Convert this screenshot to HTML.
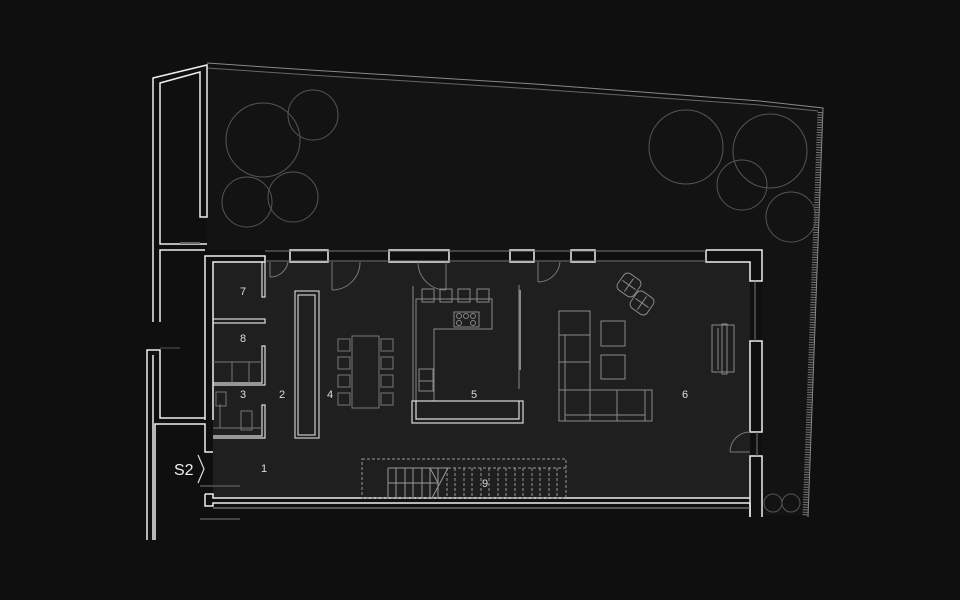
<!DOCTYPE html>
<html><head><meta charset="utf-8"><style>
html,body{margin:0;padding:0;background:#0f0f0f;}
svg{display:block;}
text{font-family:"Liberation Sans",sans-serif;fill:#ddd;}
</style></head><body>
<svg width="960" height="600" viewBox="0 0 960 600" xmlns="http://www.w3.org/2000/svg">
<rect width="960" height="600" fill="#0f0f0f"/>
<!-- garden -->
<polygon points="207,67 310,74 535,88 760,104 823,110 808,515 762,515 762,250 207,250" fill="#131313"/>
<polyline points="207,63 310,70 535,84 760,101 823,108 808,517" fill="none" stroke="#888" stroke-width="1"/>
<polyline points="207,68 310,75 535,89 760,105 818,111" fill="none" stroke="#666" stroke-width="1"/>
<line x1="820" y1="112" x2="805" y2="516" stroke="#777" stroke-width="5" stroke-dasharray="1 1.5"/>
<g fill="none" stroke="#555" stroke-width="1">
<circle cx="263" cy="140" r="37"/><circle cx="313" cy="115" r="25"/>
<circle cx="247" cy="202" r="25"/><circle cx="293" cy="197" r="25"/>
<circle cx="686" cy="147" r="37"/><circle cx="770" cy="151" r="37"/>
<circle cx="742" cy="185" r="25"/><circle cx="791" cy="217" r="25"/>
<circle cx="773" cy="503" r="9"/><circle cx="791" cy="503" r="9"/>
</g>
<!-- interior floor -->
<rect x="213" y="262" width="537" height="236" fill="#1f1f1f"/>
<!-- left structure -->
<g fill="none" stroke="#eee" stroke-width="1.5">
<polyline points="153,322 153,78 207,65 207,217 200,217 200,72 160,83 160,244 207,244"/>
<polyline points="160,322 160,250 205,250"/>
<polyline points="147,540 147,350 160,350 160,418 205,418"/>
<polyline points="153,540 153,355"/>
<polyline points="155,540 155,424 205,424 205,452 213,452"/>
</g>
<line x1="160" y1="348" x2="180" y2="348" stroke="#555"/>
<line x1="180" y1="243" x2="200" y2="243" stroke="#666" stroke-width="2"/>
<!-- outer walls -->
<g fill="none" stroke="#eee" stroke-width="1.5">
<polyline points="205,420 205,256 265,256 265,262 213,262 213,420"/>
<rect x="290" y="250" width="38" height="12"/>
<rect x="389" y="250" width="60" height="12"/>
<rect x="510" y="250" width="24" height="12"/>
<rect x="571" y="250" width="24" height="12"/>
<polyline points="706,250 762,250 762,281 750,281 750,262 706,262 706,250"/>
<rect x="750" y="341" width="12" height="91"/>
<polyline points="750,517 750,456 762,456 762,517"/>
<polyline points="205,494 213,494 213,498 750,498"/>
<polyline points="205,494 205,506 213,506 213,503 750,503 750,517"/>
<line x1="213" y1="508" x2="750" y2="508" stroke="#999" stroke-width="1"/>
</g>
<g stroke="#777" stroke-width="1" fill="none">
<line x1="265" y1="251" x2="706" y2="251"/>
<line x1="265" y1="261" x2="706" y2="261"/>
<line x1="755" y1="281" x2="755" y2="341"/><line x1="757" y1="432" x2="757" y2="456"/>
<path d="M270 262 v15 M270 277 A18 18 0 0 0 288 262"/>
<path d="M332 262 v28 M332 290 A28 28 0 0 0 360 262"/>
<path d="M446 262 v28 M446 290 A28 28 0 0 1 418 262"/>
<path d="M538 262 v20 M538 282 A22 22 0 0 0 560 262"/>
<path d="M750 452 h-20 M730 452 A20 20 0 0 1 750 432"/>
</g>
<line x1="200" y1="486" x2="240" y2="486" stroke="#555" stroke-width="1.5"/>
<line x1="200" y1="519" x2="240" y2="519" stroke="#555" stroke-width="1.5"/>
<!-- small rooms -->
<g fill="none" stroke="#ddd" stroke-width="1.2">
<rect x="262" y="262" width="3" height="35"/>
<rect x="213" y="319" width="52" height="4"/>
<polyline points="213,383 262,383 262,346 265,346 265,385 213,385"/>
<polyline points="213,436 262,436 262,405 265,405 265,438 213,438"/>
</g>
<g fill="none" stroke="#777" stroke-width="1">
<line x1="232" y1="362" x2="232" y2="383"/><line x1="249" y1="362" x2="249" y2="383"/><line x1="213" y1="362" x2="262" y2="362"/>
<rect x="216" y="392" width="10" height="14"/><rect x="241" y="411" width="11" height="19"/>
<line x1="220" y1="404" x2="220" y2="428"/><line x1="213" y1="428" x2="262" y2="428"/>
</g>
<!-- bench -->
<g fill="none" stroke="#ccc" stroke-width="1.2">
<rect x="295" y="291" width="24" height="147"/>
<rect x="298" y="295" width="17" height="140"/>
</g>
<!-- dining -->
<g fill="none" stroke="#777" stroke-width="1">
<rect x="352" y="336" width="27" height="72"/>
<rect x="338" y="339" width="12" height="12"/><rect x="338" y="357" width="12" height="12"/><rect x="338" y="375" width="12" height="12"/><rect x="338" y="393" width="12" height="12"/>
<rect x="381" y="339" width="12" height="12"/><rect x="381" y="357" width="12" height="12"/><rect x="381" y="375" width="12" height="12"/><rect x="381" y="393" width="12" height="12"/>
</g>
<!-- kitchen -->
<g fill="none" stroke="#888" stroke-width="1">
<line x1="413" y1="286" x2="413" y2="401"/>
<polygon points="416,299 492,299 492,329 434,329 434,401 416,401"/>
<rect x="454" y="312" width="25" height="15"/>
<circle cx="459" cy="316" r="2.5"/><circle cx="466" cy="316" r="2.5"/><circle cx="473" cy="316" r="2.5"/>
<circle cx="459" cy="323" r="2.5"/><circle cx="473" cy="323" r="2.5"/>
<rect x="422" y="289" width="12" height="13"/><rect x="440" y="289" width="12" height="13"/><rect x="458" y="289" width="12" height="13"/><rect x="477" y="289" width="12" height="13"/>
<rect x="419" y="369" width="14" height="12"/><rect x="419" y="381" width="14" height="10"/>
<line x1="519" y1="285" x2="519" y2="389"/><line x1="520" y1="290" x2="520" y2="370" stroke-width="2"/>
</g>
<g fill="none" stroke="#ddd" stroke-width="1.2">
<rect x="412" y="401" width="111" height="22"/>
<polyline points="416,401 416,419 519,419 519,401"/>
</g>
<!-- living -->
<g fill="none" stroke="#888" stroke-width="1">
<rect x="559" y="311" width="31" height="24"/>
<polygon points="559,335 590,335 590,390 652,390 652,421 559,421"/>
<line x1="565" y1="335" x2="565" y2="421"/><line x1="565" y1="415" x2="645" y2="415"/>
<line x1="559" y1="362" x2="590" y2="362"/><line x1="559" y1="390" x2="590" y2="390"/>
<line x1="590" y1="390" x2="590" y2="421"/><line x1="617" y1="390" x2="617" y2="421"/><line x1="645" y1="390" x2="645" y2="421"/>
<rect x="601" y="321" width="24" height="25"/><rect x="601" y="355" width="24" height="24"/>
<rect x="712" y="325" width="22" height="47"/><rect x="722" y="324" width="5" height="50"/><line x1="718" y1="328" x2="718" y2="370"/>
<rect x="619" y="275" width="20" height="20" rx="5" transform="rotate(35 629 285)"/>
<rect x="632" y="293" width="20" height="20" rx="5" transform="rotate(35 642 303)"/>
<line x1="621" y1="285" x2="637" y2="285" transform="rotate(35 629 285)"/><line x1="629" y1="277" x2="629" y2="293" transform="rotate(35 629 285)"/>
<line x1="634" y1="303" x2="650" y2="303" transform="rotate(35 642 303)"/><line x1="642" y1="295" x2="642" y2="311" transform="rotate(35 642 303)"/>
</g>
<!-- stairs -->
<g fill="none" stroke="#999" stroke-width="1">
<rect x="362" y="459" width="204" height="39" stroke-dasharray="3 2"/>
<line x1="448" y1="468" x2="566" y2="468" stroke-dasharray="3 2"/>
<line x1="388" y1="468" x2="448" y2="468"/>
<line x1="388" y1="483" x2="438" y2="483"/>
<path d="M388 468v30M396 468v30M405 468v30M413 468v30M422 468v30M430 468v30M438 468v30"/>
<path d="M447 468v30M455 468v30M464 468v30M472 468v30M481 468v30M489 468v30M498 468v30M506 468v30M515 468v30M523 468v30M532 468v30M540 468v30M549 468v30M557 468v30" stroke-dasharray="3 2"/>
<path d="M432 498 L448 468 M430 468 L438 483"/>
</g>
<!-- labels -->
<g font-size="11" text-anchor="middle">
<text x="243" y="295">7</text><text x="243" y="342">8</text><text x="243" y="398">3</text>
<text x="282" y="398">2</text><text x="330" y="398">4</text><text x="474" y="398">5</text>
<text x="685" y="398">6</text><text x="264" y="472">1</text><text x="485" y="487">9</text>
</g>
<text x="174" y="475" font-size="16" style="fill:#eee">S2</text>
<polyline points="198,455 204,469 198,483" fill="none" stroke="#ddd" stroke-width="1.2"/>
</svg>
</body></html>
